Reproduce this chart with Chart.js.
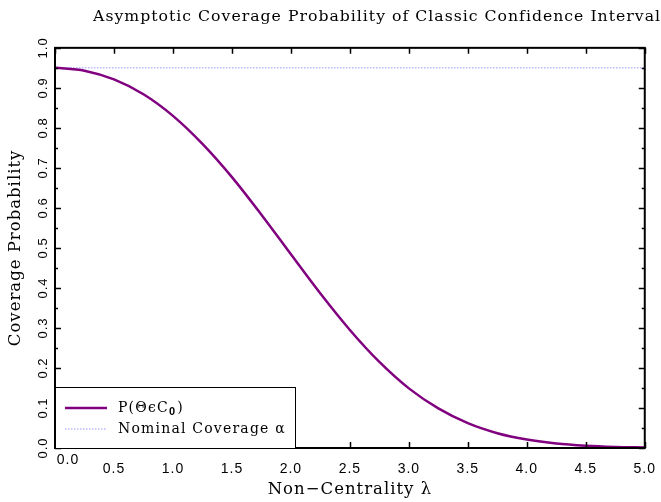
<!DOCTYPE html>
<html>
<head>
<meta charset="utf-8">
<script src="https://cdn.jsdelivr.net/npm/chart.js@4.4.1/dist/chart.umd.min.js"></script>
<style>
  html, body { margin: 0; padding: 0; background: #fff; }
  #coverageChart { display: block; }
</style>
</head>
<body>
<canvas id="coverageChart" width="661" height="502"></canvas>
<script>
// values
const lambdaValues = [0, 0.25, 0.5, 0.75, 1.0, 1.25, 1.5, 1.75, 2.0, 2.25, 2.5,
                      2.75, 3.0, 3.25, 3.5, 3.75, 4.0, 4.25, 4.5, 4.75, 5.0];
const coverageValues = [0.950, 0.943, 0.921, 0.884, 0.830, 0.760, 0.677, 0.583, 0.484, 0.386, 0.295,
                        0.215, 0.149, 0.099, 0.062, 0.037, 0.021, 0.011, 0.0055, 0.0026, 0.0012];
const nominalLambda = [0, 5.0];
const nominalValues = [0.95, 0.95];
const xTicks = [0, 0.5, 1.0, 1.5, 2.0, 2.5, 3.0, 3.5, 4.0, 4.5, 5.0];
const yTicks = [0, 0.1, 0.2, 0.3, 0.4, 0.5, 0.6, 0.7, 0.8, 0.9, 1.0];

const serif = "'DejaVu Serif', serif";
const sans = "'Liberation Sans', Arial, sans-serif";
const spacing = '1px';

const canvas = document.getElementById('coverageChart');

const spacingPlugin = {
    id: 'spacing',
    beforeLayout(chart) { chart.ctx.letterSpacing = spacing; },
    beforeDraw(chart) { chart.ctx.letterSpacing = spacing; }
};

// legend text, with a "_0" style subscript drawn smaller and lower
function drawLegendText(ctx, text, x, y) {
    const parts = text.split('\u2080');
    ctx.fillText(parts[0], x, y);
    if (parts.length < 2) return;
    let px = x + ctx.measureText(parts[0]).width;
    ctx.save();
    ctx.font = 'bold 11px ' + sans;
    ctx.fillText('0', px, y + 4);
    px += ctx.measureText('0').width + 1;
    ctx.restore();
    ctx.fillText(parts[1], px, y);
}

// frame, inner ticks, shifted first x label and the boxed legend
const framePlugin = {
    id: 'frame',
    afterDatasetsDraw(chart) {
        const ctx = chart.ctx;
        const area = chart.chartArea;
        const xs = chart.scales.x;
        const ys = chart.scales.y;
        ctx.save();
        ctx.letterSpacing = spacing;
        ctx.strokeStyle = 'black';
        ctx.lineWidth = 1.5;
        ctx.beginPath();
        xTicks.forEach((v) => {
            const x = Math.round(xs.getPixelForValue(v)) + 0.5;
            ctx.moveTo(x, area.bottom); ctx.lineTo(x, area.bottom - 6);
            ctx.moveTo(x, area.top); ctx.lineTo(x, area.top + 6);
        });
        yTicks.forEach((v, i) => {
            const y = Math.round(ys.getPixelForValue(v)) + 0.5;
            ctx.moveTo(area.left, y); ctx.lineTo(area.left + 6, y);
            ctx.moveTo(area.right, y); ctx.lineTo(area.right - 6, y);
            if (i < yTicks.length - 1) {
                const ym = Math.round(ys.getPixelForValue((v + yTicks[i + 1]) / 2)) + 0.5;
                ctx.moveTo(area.left, ym); ctx.lineTo(area.left + 3, ym);
                ctx.moveTo(area.right, ym); ctx.lineTo(area.right - 3, ym);
            }
        });
        ctx.stroke();

        ctx.lineWidth = 2;
        ctx.strokeRect(area.left, area.top, area.right - area.left, area.bottom - area.top);

        // first x label sits a bit right of its tick
        ctx.fillStyle = 'black';
        ctx.font = '14px ' + sans;
        ctx.textAlign = 'center';
        ctx.textBaseline = 'top';
        ctx.fillText(xTicks[0].toFixed(1), xs.getPixelForValue(xTicks[0]) + 13, area.bottom + 5);

        // legend box
        const bx = area.left, by = area.bottom - 61, bw = 240, bh = 61;
        ctx.fillStyle = 'white';
        ctx.fillRect(bx, by, bw, bh);
        ctx.lineWidth = 1;
        ctx.strokeStyle = 'black';
        ctx.strokeRect(bx + 0.5, by + 0.5, bw, bh);
        ctx.font = '14px ' + serif;
        ctx.letterSpacing = '1.2px';
        ctx.textAlign = 'left';
        ctx.textBaseline = 'middle';
        chart.data.datasets.forEach((ds, i) => {
            const y = by + 21 + i * 21;
            ctx.save();
            ctx.strokeStyle = ds.borderColor;
            ctx.lineWidth = ds.borderWidth;
            ctx.setLineDash(ds.borderDash || []);
            ctx.beginPath();
            ctx.moveTo(bx + 10, y); ctx.lineTo(bx + 52, y);
            ctx.stroke();
            ctx.restore();
            ctx.fillStyle = 'black';
            drawLegendText(ctx, ds.label, bx + 63, y);
        });
        ctx.restore();
    }
};

new Chart(canvas, {
    type: 'line',
    data: {
        datasets: [{
            label: 'P(\u0398\u03F5C\u2080)',
            data: lambdaValues.map((x, i) => ({x: x, y: coverageValues[i]})),
            borderColor: '#800080',
            borderWidth: 2.5,
            pointRadius: 0,
            cubicInterpolationMode: 'monotone',
            fill: false
        }, {
            label: 'Nominal Coverage \u03B1',
            data: nominalLambda.map((x, i) => ({x: x, y: nominalValues[i]})),
            borderColor: 'rgb(185, 185, 255)',
            borderWidth: 1.5,
            borderDash: [1.5, 1.5],
            pointRadius: 0,
            fill: false
        }]
    },
    options: {
        responsive: false,
        animation: false,
        devicePixelRatio: 1,
        layout: { padding: 0 },
        plugins: {
            legend: { display: false },
            tooltip: { enabled: false },
            title: {
                display: true,
                text: 'Asymptotic Coverage Probability of Classic Confidence Interval',
                align: 'end',
                color: 'black',
                font: { family: serif, size: 15.7, weight: 'normal' },
                padding: { top: 8, bottom: 21 }
            }
        },
        scales: {
            x: {
                type: 'linear',
                min: 0,
                max: 5,
                afterFit: (scale) => { scale.height = 54; },
                afterBuildTicks: (scale) => { scale.ticks = xTicks.map(v => ({value: v})); },
                grid: { display: false },
                border: { display: false },
                ticks: {
                    color: 'black',
                    font: { family: sans, size: 14 },
                    padding: 5,
                    maxRotation: 0,
                    callback: (v) => v === 0 ? '' : v.toFixed(1)
                },
                title: {
                    display: true,
                    text: 'Non\u2212Centrality \u03BB',
                    color: 'black',
                    font: { family: serif, size: 16.5 },
                    padding: { top: 0, bottom: 2 }
                }
            },
            y: {
                min: 0,
                max: 1,
                afterFit: (scale) => { scale.width = 55; },
                afterBuildTicks: (scale) => { scale.ticks = yTicks.map(v => ({value: v})); },
                grid: { display: false },
                border: { display: false },
                ticks: {
                    color: 'black',
                    font: { family: sans, size: 13 },
                    minRotation: 90,
                    maxRotation: 90,
                    crossAlign: 'center',
                    padding: -7,
                    callback: (v) => v.toFixed(1)
                },
                title: {
                    display: true,
                    text: 'Coverage Probability',
                    color: 'black',
                    font: { family: serif, size: 16.5 },
                    padding: { top: 6, bottom: 0 }
                }
            },
            yRight: {
                position: 'right',
                min: 0,
                max: 1,
                afterFit: (scale) => { scale.width = 15; },
                grid: { display: false },
                border: { display: false },
                ticks: { display: false }
            }
        }
    },
    plugins: [spacingPlugin, framePlugin]
});
</script>
</body>
</html>
